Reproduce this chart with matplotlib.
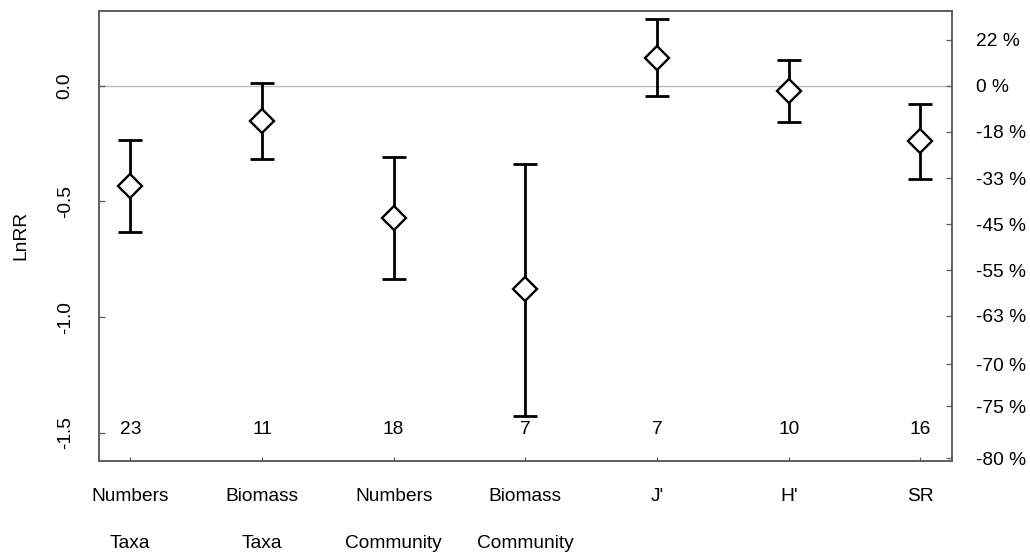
import numpy as np
import matplotlib
matplotlib.use("Agg")
import matplotlib.pyplot as plt
from matplotlib.transforms import blended_transform_factory

plt.rcParams['font.family'] = ['Liberation Sans', 'DejaVu Sans']

# ---- data ----
labels_top = ["Numbers", "Biomass", "Numbers", "Biomass", "J'", "H'", "SR"]
labels_bottom = ["Taxa", "Taxa", "Community", "Community", "", "", ""]
lnrr = [-0.432, -0.154, -0.571, -0.879, 0.120, -0.023, -0.239]
ci_upper = [-0.234, 0.012, -0.309, -0.336, 0.289, 0.113, -0.079]
ci_lower = [-0.630, -0.318, -0.834, -1.427, -0.046, -0.157, -0.403]
n_studies = [23, 11, 18, 7, 7, 10, 16]
left_ticks = [-1.5, -1.0, -0.5, 0.0]
pct_labels = [22, 0, -18, -33, -45, -55, -63, -70, -75, -80]

FS = 13.8

x = np.arange(1, len(lnrr) + 1)
lnrr = np.array(lnrr)
err = np.vstack([lnrr - np.array(ci_lower), np.array(ci_upper) - lnrr])

fig = plt.figure(figsize=(10.30, 5.53), dpi=100)
ax = fig.add_axes([0.0958, 0.1669, 0.9243 - 0.0958, 0.9807 - 0.1669])

ylim = (-1.621, 0.325)
xlim = (0.76, 7.24)

ax.axhline(0, color='#bdbdbd', lw=1.0, zorder=1)
ax.errorbar(x, lnrr, yerr=err, fmt='none', ecolor='black', elinewidth=2.0,
            capsize=8.3, capthick=2.0, zorder=2)
ax.plot(x, lnrr, linestyle='none', marker='D', markersize=12.2,
        markerfacecolor='white', markeredgecolor='black', markeredgewidth=1.7,
        zorder=3)

for xi, n in zip(x, n_studies):
    ax.text(xi, -1.488, str(n), ha='center', va='center', fontsize=FS)

ax.set_xlim(*xlim)
ax.set_ylim(*ylim)

spine_col = '#5a5a5a'
for s in ax.spines.values():
    s.set_color(spine_col)
    s.set_linewidth(1.1)

ax.set_yticks(left_ticks)
ax.set_yticklabels([f"{t:.1f}" for t in left_ticks], rotation=90, va='center')
ax.tick_params(axis='y', direction='in', length=4, width=0.9, color=spine_col,
               pad=18, labelsize=FS)
ax.set_xticks(x)
ax.set_xticklabels([])
ax.tick_params(axis='x', direction='in', length=3, width=0.9, color=spine_col)

trans = blended_transform_factory(ax.transData, ax.transAxes)
for xi, t1, t2 in zip(x, labels_top, labels_bottom):
    ax.annotate(t1, xy=(xi, 0), xycoords=trans, xytext=(0, -25.9),
                textcoords='offset points', ha='center', va='center', fontsize=FS)
    if t2:
        ax.annotate(t2, xy=(xi, 0), xycoords=trans, xytext=(0, -59.3),
                    textcoords='offset points', ha='center', va='center', fontsize=FS)

ax.set_ylabel("LnRR", fontsize=FS)
ax.yaxis.set_label_coords(-(98.7 - 29.5) / (952 - 98.7), 0.5)

ax2 = ax.twinx()
ax2.set_ylim(*ylim)
ax2.set_yticks(np.log(1 + np.array(pct_labels) / 100.0))
ax2.set_yticklabels([f"{p} %" for p in pct_labels])
ax2.tick_params(axis='y', direction='in', length=4, width=0.9, color=spine_col,
                pad=17, labelsize=FS)
for s in ax2.spines.values():
    s.set_color(spine_col)
    s.set_linewidth(1.1)

fig.savefig("out.png", dpi=100)
